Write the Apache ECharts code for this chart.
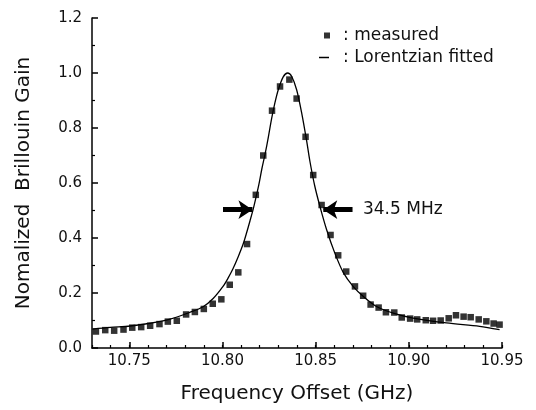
<!DOCTYPE html>
<html>
<head>
<meta charset="utf-8">
<script src="https://cdn.jsdelivr.net/npm/echarts@6/dist/echarts.min.js"></script>
<style>
html,body{margin:0;padding:0;background:#fff;}
#c{width:536px;height:410px;}
</style>
</head>
<body>
<div id="c"></div>
<script>
// Measured points (frequency offset in GHz, normalized gain)
var measuredFreq = [10.7321,10.7371,10.7419,10.7469,10.7516,10.7564,10.7612,10.7662,10.7707,10.7755,
  10.7805,10.7852,10.7900,10.7948,10.7994,10.8039,10.8085,10.8132,10.8179,10.8219,
  10.8266,10.8309,10.8359,10.8398,10.8446,10.8487,10.8532,10.8580,10.8621,10.8664,
  10.8711,10.8755,10.8795,10.8838,10.8877,10.8922,10.8962,10.9007,10.9045,10.9091,
  10.9130,10.9171,10.9214,10.9253,10.9294,10.9332,10.9375,10.9416,10.9455,10.9487];
var measuredGain = [0.060,0.065,0.063,0.067,0.074,0.076,0.081,0.087,0.096,0.099,
  0.122,0.131,0.142,0.161,0.177,0.230,0.275,0.378,0.557,0.700,
  0.863,0.951,0.976,0.907,0.768,0.629,0.520,0.411,0.337,0.278,
  0.224,0.190,0.158,0.147,0.130,0.129,0.111,0.107,0.104,0.101,
  0.099,0.100,0.108,0.119,0.114,0.112,0.104,0.097,0.089,0.085];

// Lorentzian fitted curve
var fitFreq = [10.7302,10.7398,10.7505,10.7612,10.7719,10.7827,10.7896,10.7950,10.8003,10.8030,
  10.8057,10.8084,10.8111,10.8130,10.8148,10.8165,10.8180,10.8195,10.8211,10.8228,
  10.8245,10.8264,10.8282,10.8300,10.8326,10.8350,10.8371,10.8398,10.8425,10.8452,
  10.8469,10.8495,10.8523,10.8559,10.8603,10.8648,10.8701,10.8755,10.8827,10.8925,
  10.9023,10.9202,10.9380,10.9487];
var fitGain = [0.069,0.075,0.080,0.090,0.105,0.130,0.150,0.180,0.224,0.254,
  0.289,0.331,0.378,0.420,0.463,0.505,0.548,0.593,0.650,0.703,
  0.762,0.835,0.893,0.940,0.986,1.000,0.988,0.939,0.855,0.752,
  0.680,0.590,0.515,0.430,0.345,0.275,0.224,0.188,0.151,0.125,
  0.109,0.091,0.079,0.067];

var xMajorTicks = [10.75,10.80,10.85,10.90,10.95];
var xMinorTicks = [10.73,10.74,10.75,10.76,10.77,10.78,10.79,10.80,10.81,10.82,10.83,10.84,
  10.85,10.86,10.87,10.88,10.89,10.90,10.91,10.92,10.93,10.94,10.95];

var fwhmLabel = '34.5 MHz';
var halfLevel = 0.503;
var leftArrow = [10.8003, 10.8161];
var rightArrow = [10.8698, 10.8541];
var labelFreq = 10.8754;

var FONT = 'DejaVu Sans';

function zip(a, b){ var o=[]; for (var i=0;i<a.length;i++) o.push([a[i], b[i]]); return o; }

var chart = echarts.init(document.getElementById('c'), null, {renderer:'canvas'});

chart.setOption({
  animation: false,
  backgroundColor: '#fff',
  grid: {left: 92, right: 34, top: 18, bottom: 62, containLabel: false},
  legend: [
    {data: [{name: 'measured', icon: 'rect'}], left: 319, top: 22, itemWidth: 6, itemHeight: 6,
     formatter: function(n){ return '{t|: ' + n + '}'; },
     textStyle: {rich: {t: {fontFamily: FONT, fontSize: 17, color: '#111', padding: [0,0,0,8]}}},
     selectedMode: false},
    {data: [{name: 'Lorentzian fitted', icon: 'rect'}], left: 314, top: 44, itemWidth: 10, itemHeight: 1.5,
     formatter: function(n){ return '{t|: ' + n + '}'; },
     textStyle: {rich: {t: {fontFamily: FONT, fontSize: 17, color: '#111', padding: [0,0,0,9]}}},
     selectedMode: false}
  ],
  xAxis: [
    {type: 'value', min: 10.73, max: 10.95, position: 'bottom',
     name: 'Frequency Offset (GHz)', nameLocation: 'middle', nameGap: 36,
     nameTextStyle: {fontFamily: FONT, fontSize: 20, color: '#111'},
     axisLine: {show: true, onZero: false, lineStyle: {color: '#000', width: 1.5}},
     axisTick: {show: true, inside: true, length: 6, customValues: xMajorTicks, lineStyle: {color: '#000', width: 1.5}},
     axisLabel: {show: true, customValues: xMajorTicks, margin: 6, formatter: function(v){ return v.toFixed(2); },
       fontFamily: FONT, fontSize: 15, color: '#111'},
     splitLine: {show: false}},
    {type: 'value', min: 10.73, max: 10.95, position: 'bottom',
     axisLine: {show: false},
     axisTick: {show: true, inside: true, length: 3, customValues: xMinorTicks, lineStyle: {color: '#000', width: 1.2}},
     axisLabel: {show: false},
     splitLine: {show: false}}
  ],
  yAxis: {
    type: 'value', min: 0, max: 1.2, interval: 0.2,
    name: 'Nomalized  Brillouin Gain', nameLocation: 'middle', nameGap: 58,
    nameTextStyle: {fontFamily: FONT, fontSize: 20, color: '#111'},
    axisLine: {show: true, onZero: false, lineStyle: {color: '#000', width: 1.5}},
    axisTick: {show: true, inside: true, length: 6, lineStyle: {color: '#000', width: 1.5}},
    minorTick: {show: true, splitNumber: 2, length: 3, lineStyle: {color: '#000', width: 1.2}},
    axisLabel: {margin: 10, formatter: function(v){ return v.toFixed(1); }, fontFamily: FONT, fontSize: 15, color: '#111'},
    splitLine: {show: false}
  },
  series: [
    {name: 'Lorentzian fitted', type: 'line', data: zip(fitFreq, fitGain), smooth: 0.3,
     symbol: 'none', lineStyle: {color: '#000', width: 1.3}, itemStyle: {color: '#000'},
     markLine: {silent: true, symbol: ['none', 'arrow'], symbolSize: 14,
       label: {show: false}, lineStyle: {color: '#000', width: 5, type: 'solid'},
       data: [
         [{coord: [leftArrow[0], halfLevel]}, {coord: [leftArrow[1], halfLevel]}],
         [{coord: [rightArrow[0], halfLevel]}, {coord: [rightArrow[1], halfLevel]}]
       ]},
     markPoint: {silent: true, symbol: 'rect', symbolSize: 0,
       label: {show: true, position: 'right', distance: 0, formatter: fwhmLabel,
         fontFamily: FONT, fontSize: 17, color: '#111'},
       data: [{coord: [labelFreq, halfLevel]}]}
    },
    {name: 'measured', type: 'scatter', data: zip(measuredFreq, measuredGain),
     symbol: 'rect', symbolSize: 6.5, itemStyle: {color: '#000'}, z: 3}
  ]
});
</script>
</body>
</html>
